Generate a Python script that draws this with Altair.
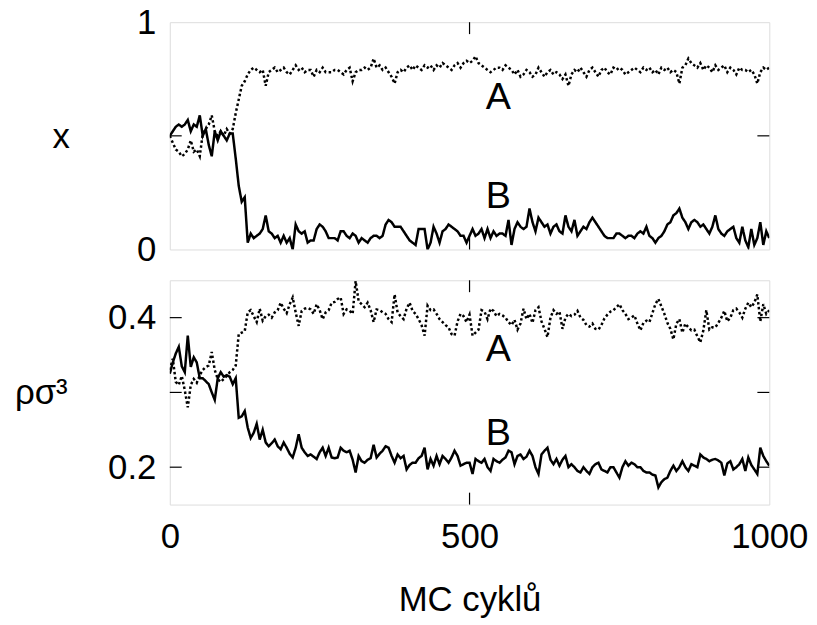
import altair as alt
import pandas as pd

# MC cycles sampled every 5 cycles
cycles = list(range(0, 1001, 5))

# mole fraction x, species A (dotted) and B (solid)
x_A = [0.50, 0.47, 0.44, 0.43, 0.41, 0.42, 0.44, 0.48, 0.43, 0.44,
       0.41, 0.51, 0.53, 0.55, 0.59, 0.52, 0.50, 0.52, 0.50, 0.53,
       0.51, 0.53, 0.60, 0.66, 0.72, 0.74, 0.77, 0.79, 0.80, 0.79,
       0.78, 0.79, 0.72, 0.78, 0.79, 0.80, 0.78, 0.79, 0.80, 0.78,
       0.77, 0.79, 0.81, 0.79, 0.80, 0.78, 0.79, 0.79, 0.76, 0.79,
       0.78, 0.80, 0.78, 0.78, 0.78, 0.79, 0.79, 0.78, 0.77, 0.79,
       0.80, 0.74, 0.78, 0.79, 0.79, 0.80, 0.79, 0.80, 0.84, 0.80,
       0.81, 0.79, 0.80, 0.78, 0.76, 0.73, 0.78, 0.79, 0.78, 0.80,
       0.81, 0.79, 0.81, 0.80, 0.79, 0.81, 0.80, 0.81, 0.79, 0.81,
       0.80, 0.82, 0.81, 0.80, 0.79, 0.81, 0.82, 0.80, 0.82, 0.83,
       0.82, 0.83, 0.85, 0.82, 0.81, 0.80, 0.79, 0.78, 0.79, 0.80,
       0.80, 0.79, 0.81, 0.80, 0.79, 0.77, 0.79, 0.76, 0.77, 0.79,
       0.78, 0.76, 0.77, 0.80, 0.78, 0.76, 0.78, 0.79, 0.77, 0.78,
       0.77, 0.75, 0.77, 0.72, 0.77, 0.79, 0.78, 0.80, 0.78, 0.76,
       0.79, 0.80, 0.78, 0.76, 0.79, 0.80, 0.78, 0.77, 0.80, 0.79,
       0.80, 0.79, 0.77, 0.78, 0.79, 0.80, 0.79, 0.78, 0.80, 0.79,
       0.80, 0.78, 0.79, 0.77, 0.80, 0.79, 0.80, 0.78, 0.79, 0.78,
       0.73, 0.80, 0.81, 0.84, 0.82, 0.81, 0.80, 0.82, 0.79, 0.81,
       0.80, 0.78, 0.81, 0.79, 0.80, 0.81, 0.78, 0.80, 0.79, 0.77,
       0.80, 0.79, 0.79, 0.78, 0.79, 0.77, 0.73, 0.78, 0.80, 0.79,
       0.80]
x_B = [0.50, 0.52, 0.54, 0.55, 0.54, 0.55, 0.57, 0.52, 0.55, 0.54,
       0.59, 0.50, 0.53, 0.46, 0.41, 0.52, 0.48, 0.52, 0.50, 0.48,
       0.51, 0.51, 0.40, 0.28, 0.21, 0.23, 0.03, 0.07, 0.05, 0.06,
       0.07, 0.09, 0.15, 0.08, 0.07, 0.05, 0.06, 0.03, 0.06, 0.03,
       0.05, 0.00, 0.11, 0.08, 0.07, 0.08, 0.03, 0.04, 0.04, 0.09,
       0.11, 0.10, 0.08, 0.05, 0.05, 0.05, 0.04, 0.08, 0.08, 0.06,
       0.05, 0.07, 0.06, 0.03, 0.05, 0.04, 0.03, 0.05, 0.06, 0.06,
       0.05, 0.06, 0.11, 0.13, 0.12, 0.10, 0.10, 0.10, 0.08, 0.06,
       0.04, 0.03, 0.02, 0.09, 0.09, 0.09, 0.00, 0.03, 0.10, 0.07,
       0.03, 0.08, 0.09, 0.11, 0.10, 0.09, 0.08, 0.06, 0.06, 0.03,
       0.06, 0.09, 0.06, 0.07, 0.09, 0.05, 0.09, 0.05, 0.08, 0.06,
       0.07, 0.07, 0.06, 0.13, 0.02, 0.09, 0.12, 0.10, 0.09, 0.10,
       0.18, 0.12, 0.08, 0.14, 0.12, 0.10, 0.11, 0.07, 0.10, 0.11,
       0.08, 0.07, 0.15, 0.10, 0.08, 0.13, 0.06, 0.08, 0.10, 0.09,
       0.12, 0.14, 0.12, 0.10, 0.08, 0.06, 0.05, 0.05, 0.05, 0.07,
       0.07, 0.06, 0.05, 0.06, 0.06, 0.05, 0.07, 0.08, 0.07, 0.10,
       0.06, 0.05, 0.03, 0.05, 0.06, 0.08, 0.11, 0.12, 0.15, 0.16,
       0.18, 0.14, 0.12, 0.09, 0.12, 0.13, 0.12, 0.10, 0.11, 0.09,
       0.07, 0.10, 0.15, 0.09, 0.07, 0.06, 0.08, 0.09, 0.10, 0.05,
       0.03, 0.10, 0.04, 0.01, 0.09, 0.02, 0.05, 0.12, 0.02, 0.08,
       0.05]

# reduced density rho*sigma^3, species A (dotted) and B (solid)
rho_A = [0.330, 0.345, 0.314, 0.310, 0.322, 0.303, 0.280, 0.310, 0.318, 0.313,
         0.323, 0.330, 0.334, 0.336, 0.354, 0.330, 0.318, 0.314, 0.318, 0.322,
         0.327, 0.330, 0.336, 0.378, 0.380, 0.382, 0.407, 0.410, 0.402, 0.394,
         0.412, 0.396, 0.402, 0.404, 0.400, 0.407, 0.410, 0.420, 0.412, 0.406,
         0.418, 0.427, 0.407, 0.389, 0.409, 0.412, 0.413, 0.411, 0.405, 0.418,
         0.410, 0.398, 0.407, 0.410, 0.420, 0.421, 0.425, 0.427, 0.405, 0.411,
         0.409, 0.405, 0.449, 0.422, 0.418, 0.414, 0.420, 0.410, 0.394, 0.411,
         0.410, 0.407, 0.405, 0.398, 0.394, 0.431, 0.407, 0.402, 0.398, 0.412,
         0.420, 0.409, 0.405, 0.398, 0.390, 0.376, 0.416, 0.410, 0.411, 0.405,
         0.398, 0.394, 0.390, 0.387, 0.378, 0.376, 0.395, 0.405, 0.402, 0.394,
         0.404, 0.376, 0.380, 0.384, 0.410, 0.408, 0.398, 0.412, 0.409, 0.402,
         0.405, 0.403, 0.400, 0.394, 0.390, 0.397, 0.384, 0.392, 0.412, 0.398,
         0.405, 0.393, 0.410, 0.414, 0.395, 0.385, 0.374, 0.400, 0.410, 0.405,
         0.408, 0.385, 0.400, 0.405, 0.402, 0.404, 0.409, 0.400, 0.397, 0.390,
         0.388, 0.392, 0.385, 0.384, 0.390, 0.399, 0.404, 0.408, 0.410, 0.414,
         0.418, 0.410, 0.405, 0.398, 0.400, 0.403, 0.392, 0.383, 0.393, 0.396,
         0.394, 0.406, 0.418, 0.425, 0.415, 0.405, 0.393, 0.385, 0.371, 0.392,
         0.398, 0.380, 0.392, 0.387, 0.383, 0.384, 0.375, 0.367, 0.383, 0.410,
         0.384, 0.387, 0.387, 0.393, 0.400, 0.409, 0.395, 0.400, 0.410, 0.412,
         0.407, 0.400, 0.412, 0.420, 0.414, 0.420, 0.431, 0.395, 0.418, 0.405,
         0.410]
rho_B = [0.325, 0.340, 0.352, 0.361, 0.335, 0.327, 0.376, 0.334, 0.347, 0.340,
         0.319, 0.319, 0.315, 0.311, 0.300, 0.290, 0.319, 0.327, 0.321, 0.323,
         0.321, 0.311, 0.319, 0.266, 0.268, 0.275, 0.253, 0.239, 0.246, 0.258,
         0.237, 0.250, 0.233, 0.228, 0.232, 0.237, 0.228, 0.224, 0.233, 0.226,
         0.218, 0.213, 0.226, 0.244, 0.226, 0.220, 0.215, 0.217, 0.214, 0.211,
         0.220, 0.226, 0.215, 0.226, 0.213, 0.212, 0.213, 0.226, 0.222, 0.220,
         0.222, 0.210, 0.193, 0.215, 0.208, 0.206, 0.210, 0.212, 0.230, 0.213,
         0.218, 0.222, 0.228, 0.226, 0.215, 0.206, 0.217, 0.212, 0.215, 0.197,
         0.203, 0.206, 0.206, 0.212, 0.215, 0.226, 0.197, 0.211, 0.202, 0.215,
         0.204, 0.215, 0.211, 0.206, 0.213, 0.222, 0.215, 0.202, 0.204, 0.206,
         0.206, 0.191, 0.211, 0.208, 0.206, 0.211, 0.200, 0.195, 0.211, 0.208,
         0.206, 0.210, 0.213, 0.222, 0.220, 0.204, 0.215, 0.217, 0.211, 0.214,
         0.222, 0.215, 0.200, 0.191, 0.217, 0.222, 0.226, 0.210, 0.204, 0.211,
         0.202, 0.210, 0.215, 0.200, 0.204, 0.200, 0.195, 0.193, 0.200, 0.195,
         0.191, 0.200, 0.204, 0.206, 0.197, 0.195, 0.193, 0.200, 0.200, 0.193,
         0.186, 0.200, 0.208, 0.202, 0.206, 0.204, 0.200, 0.200, 0.195, 0.193,
         0.193, 0.190, 0.189, 0.173, 0.180, 0.184, 0.186, 0.195, 0.202, 0.195,
         0.200, 0.208, 0.200, 0.195, 0.204, 0.202, 0.200, 0.217, 0.213, 0.211,
         0.208, 0.210, 0.211, 0.209, 0.206, 0.189, 0.205, 0.208, 0.197, 0.200,
         0.204, 0.211, 0.195, 0.213, 0.203, 0.197, 0.191, 0.226, 0.215, 0.208,
         0.202]

# curve labels
label_names = ["A", "B"]
label_cycle = [548, 548]
label_x = [0.667, 0.231]
label_rho = [0.356, 0.244]

# inner tick positions (gnuplot style)
x_ticks_top_y = [0.5]
rho_ticks_y = [0.2, 0.3, 0.4]
cycle_ticks = [500]

FONT = "Liberation Sans"
FS = 35
W = 604
H_TOP = 229
H_BOT = 226
TICK = 12

df_x = pd.DataFrame({
    "cycle": cycles * 2,
    "val": x_A + x_B,
    "series": ["A"] * len(cycles) + ["B"] * len(cycles),
})
df_rho = pd.DataFrame({
    "cycle": cycles * 2,
    "val": rho_A + rho_B,
    "series": ["A"] * len(cycles) + ["B"] * len(cycles),
})

dash = alt.StrokeDash("series:N", scale=alt.Scale(domain=["A", "B"], range=[[2.5, 2.5], [1, 0]]), legend=None)
xscale = alt.Scale(domain=[0, 1000], nice=False, zero=False)


def panel(df, ydomain, yvalues, yfmt, ytitle, titleX, titleY, h, tick_y, lab_y, show_x):
    yscale = alt.Scale(domain=ydomain, nice=False, zero=False)
    yaxis = alt.Axis(values=yvalues, format=yfmt, title=ytitle, titleAngle=0,
                     titleX=titleX, titleY=titleY, titleAlign="center",
                     titleBaseline="alphabetic", ticks=False, domain=False, grid=False,
                     labelPadding=14, labelFontSize=FS, titleFontSize=FS,
                     titleFontWeight="normal", labelFlush=False)
    if show_x:
        xaxis = alt.Axis(values=[0, 500, 1000], format="d", title="MC cyklů",
                         ticks=False, domain=False, grid=False, labelPadding=15,
                         titlePadding=29, labelFontSize=FS, titleFontSize=FS,
                         titleFontWeight="normal", labelFlush=False)
    else:
        xaxis = None
    lines = alt.Chart(df).mark_line(color="black", strokeWidth=2.5, clip=True).encode(
        x=alt.X("cycle:Q", scale=xscale, axis=xaxis),
        y=alt.Y("val:Q", scale=yscale, axis=yaxis),
        strokeDash=dash,
        detail="series:N",
    )
    tdf = pd.DataFrame({"t": tick_y})
    lt = alt.Chart(tdf).mark_rule(color="black", strokeWidth=1.2).encode(
        x=alt.value(0), x2=alt.value(TICK), y=alt.Y("t:Q", scale=yscale))
    rt = alt.Chart(tdf).mark_rule(color="black", strokeWidth=1.2).encode(
        x=alt.value(W - TICK), x2=alt.value(W), y=alt.Y("t:Q", scale=yscale))
    cdf = pd.DataFrame({"c": cycle_ticks})
    tt = alt.Chart(cdf).mark_rule(color="black", strokeWidth=1.2).encode(
        x=alt.X("c:Q", scale=xscale), y=alt.value(0), y2=alt.value(TICK))
    bt = alt.Chart(cdf).mark_rule(color="black", strokeWidth=1.2).encode(
        x=alt.X("c:Q", scale=xscale), y=alt.value(h - TICK), y2=alt.value(h))
    ldf = pd.DataFrame({"name": label_names, "c": label_cycle, "v": lab_y})
    labels = alt.Chart(ldf).mark_text(font=FONT, fontSize=38, color="black",
                                      align="center", baseline="middle").encode(
        x=alt.X("c:Q", scale=xscale), y=alt.Y("v:Q", scale=yscale), text="name:N")
    return alt.layer(lines, lt, rt, tt, bt, labels).properties(width=W, height=h)


top = panel(df_x, [0, 1], [0, 1], "d", "x", -110, 126, H_TOP, x_ticks_top_y, label_x, False)
bottom = panel(df_rho, [0.15, 0.45], [0.2, 0.4], ".1f", "ρσ³", -130, 124, H_BOT, rho_ticks_y, label_rho, True)

chart = alt.vconcat(top, bottom, spacing=10).properties(
    padding={"left": 5, "top": -6, "right": 0, "bottom": 0}
).configure_view(
    stroke="black", strokeWidth=1.5
).configure_axis(
    labelFont=FONT, titleFont=FONT, labelColor="black", titleColor="black"
).configure(background="white")

chart.save("out.html", embed_options={"renderer": "svg", "actions": False})
